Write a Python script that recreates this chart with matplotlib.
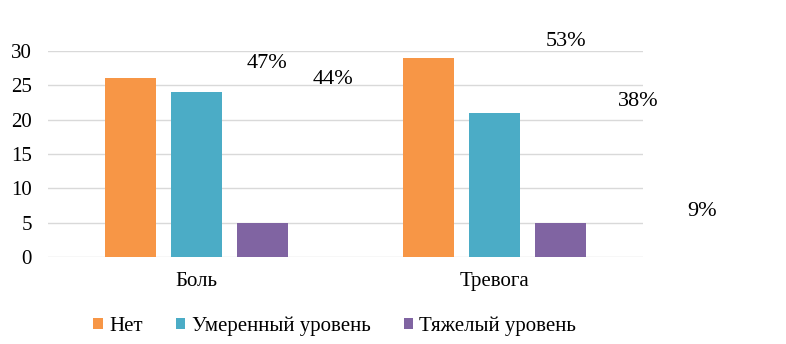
import numpy as np
import matplotlib.pyplot as plt

plt.rcParams['font.family'] = ['Liberation Serif', 'DejaVu Serif']

categories = ["Боль", "Тревога"]
series_names = ["Нет", "Умеренный уровень", "Тяжелый уровень"]
values = [
    [26, 29],   # Нет
    [24, 21],   # Умеренный уровень
    [5, 5],     # Тяжелый уровень
]
colors = ["#F79646", "#4BACC6", "#8064A2"]

# floating percent labels (left over from a pie chart in the source)
pct_labels = ["47%", "44%", "53%", "38%", "9%"]
pct_pos = [(0.340, 0.815), (0.424, 0.768), (0.720, 0.879), (0.812, 0.706), (0.893, 0.385)]

fig = plt.figure(figsize=(7.86, 3.44), dpi=100)
ax = fig.add_axes([48 / 786, 1 - 257 / 344, 595 / 786, 206 / 344])

x = np.arange(len(categories))
width = 0.172
offsets = [-0.222, 0, 0.222]
for vals, name, col, off in zip(values, series_names, colors, offsets):
    ax.bar(x + off, vals, width, color=col, label=name, zorder=3)

ax.set_xlim(-0.5, 1.5)
ax.set_ylim(0, 30)
ax.set_yticks(np.arange(0, 31, 5))
ax.set_xticks(x)
ax.set_xticklabels(categories)
ax.grid(axis='y', color='#D9D9D9', linewidth=1, zorder=0)
for s in ax.spines.values():
    s.set_visible(False)
ax.tick_params(axis='both', length=0, labelsize=15, colors='#000000')
ax.tick_params(axis='y', pad=11.5)
ax.tick_params(axis='x', pad=11)

for lab, (px, py) in zip(pct_labels, pct_pos):
    fig.text(px, py, lab, fontsize=16, ha='center', va='center')

ax.legend(loc='center', bbox_to_anchor=(0.482, -0.335), ncol=3, frameon=False,
          fontsize=15, handlelength=0.45, handleheight=0.45, handletextpad=0.3,
          columnspacing=1.6)

fig.savefig("out.png", dpi=100)
